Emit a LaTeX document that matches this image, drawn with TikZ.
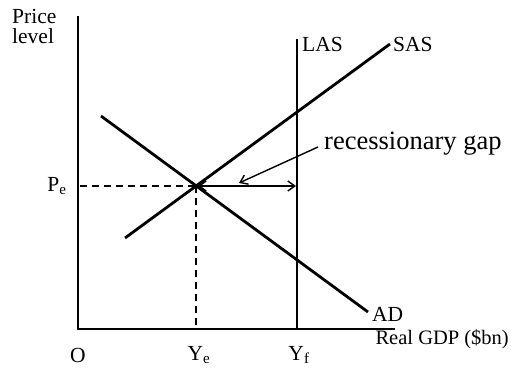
\documentclass[tikz,border=0pt]{standalone}
\usepackage{fontspec}
\setmainfont{Liberation Serif}
\usetikzlibrary{arrows.meta}
\begin{document}
\begin{tikzpicture}[x=1pt,y=-1pt,
  curve/.style={line width=2.8pt},
  axis/.style={line width=2.8pt},
  guide/.style={line width=2.4pt, dash pattern=on 7pt off 5pt},
  thinarrow/.style={line width=1.4pt},
  gaptip/.tip={Straight Barb[length=7pt,width=10pt,line width=1.4pt]},
  lbl/.style={inner sep=0pt, font=\fontsize{21.5}{24}\selectfont},
  glbl/.style={inner sep=0pt, font=\fontsize{26.5}{30}\selectfont}]
\useasboundingbox (0,0) rectangle (511,367);
% coordinates
\coordinate (O) at (78,329);
\coordinate (ytop) at (78,16);
\coordinate (xend) at (395,329);
\coordinate (E) at (196,186);
\coordinate (lastop) at (297,39);
\coordinate (lasbot) at (297,329);
\coordinate (sasA) at (125,238);
\coordinate (sasB) at (390,44);
\coordinate (adA) at (101,116);
\coordinate (adB) at (368,312);
\coordinate (pestart) at (80,186);
\coordinate (yefoot) at (196,329);
\coordinate (gapL) at (198,186);
\coordinate (gapR) at (296,186);
\coordinate (ptrS) at (318,147);
\coordinate (ptrT) at (239,183);
% axes
\draw[axis] (ytop) -- (O) -- (xend);
% curves
\draw[curve] (lastop) -- (lasbot);
\draw[curve] (sasA) -- (sasB);
\draw[curve] (adA) -- (adB);
% guides
\draw[guide] (pestart) -- (E);
\draw[guide] (E) -- (yefoot);
% gap arrows
\draw[thinarrow, gaptip-gaptip] (gapL) -- (gapR);
\draw[thinarrow, -gaptip] (ptrS) -- (ptrT);
% labels
\node[lbl, anchor=north west, align=left] (ylab) at (12,9) {Price\\[-4pt]level};
\node[lbl] (pe) at (57,186) {P\textsubscript{e}};
\node[lbl] (olab) at (78,355) {O};
\node[lbl] (yelab) at (199,355) {Y\textsubscript{e}};
\node[lbl] (yflab) at (299,355) {Y\textsubscript{f}};
\node[lbl, anchor=east, font=\fontsize{20.5}{24}\selectfont] (xlab) at (509,339) {Real GDP (\$bn)};
\node[lbl, anchor=west] (laslab) at (302,44) {LAS};
\node[lbl, anchor=west] (saslab) at (393,44) {SAS};
\node[lbl, anchor=west] (adlab) at (372,314) {AD};
\node[glbl, anchor=west] (gaplab) at (324,144) {recessionary gap};
\end{tikzpicture}
\end{document}
